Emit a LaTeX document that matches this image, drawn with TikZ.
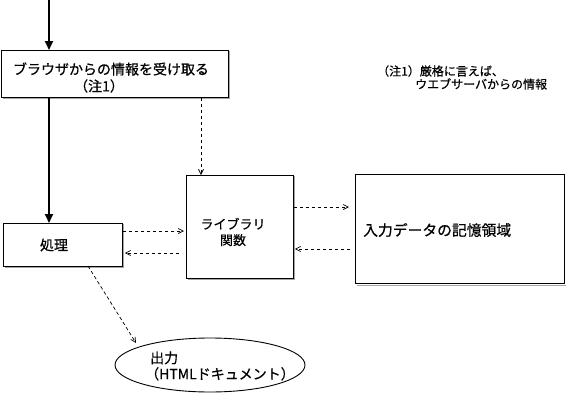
\documentclass[tikz,border=0pt]{standalone}
\usepackage{fontspec}
\setmainfont{Noto Sans CJK JP}[FakeBold=0.6]
\usetikzlibrary{arrows.meta,shapes.geometric}
\tikzset{
  box/.style={draw=black, line width=0.9pt, fill=white, inner sep=0pt, anchor=north west},
  shadowline/.style={draw=gray!70, line width=1pt},
  txt/.style={inner sep=0pt, font=\fontsize{14}{16}\selectfont},
  notetxt/.style={inner sep=0pt, font=\fontsize{12}{14}\selectfont, anchor=west},
  thickarrow/.style={line width=1.8pt, -{Triangle[length=9pt,width=8pt]}},
  dasharrow/.style={line width=0.7pt, dash pattern=on 3.5pt off 2.5pt, -{Straight Barb[length=5pt,width=5pt,line width=0.7pt]}},
}
\begin{document}
\begin{tikzpicture}[x=1pt,y=-1pt]
\useasboundingbox (0,0) rectangle (566,402);
% shadows
\draw[shadowline] (3,98) -- (229,98) -- (229,51);
\draw[shadowline] (5,267) -- (123,267) -- (123,224);
\draw[shadowline] (188,279) -- (294,279) -- (294,176);
\draw[shadowline] (357,285) -- (566,285) -- (566,175);
% boxes
\node[box, minimum width=227pt, minimum height=47pt] (b1) at (1,50) {};
\node[box, minimum width=119pt, minimum height=43pt] (proc) at (3,223) {};
\node[box, minimum width=107pt, minimum height=103pt] (lib) at (186,175) {};
\node[box, minimum width=209pt, minimum height=109pt] (data) at (355,174) {};
\node[draw=black, line width=0.9pt, ellipse, minimum width=190pt, minimum height=54pt, inner sep=0pt] (out) at (210,365) {};
% texts
\node[txt] (t1a) at (111,69) {ブラウザからの情報を受け取る};
\node[txt] (t1b) at (99,86) {（注1）};
\node[txt] (tproc) at (54,245) {処理};
\node[txt, align=center, font=\fontsize{13}{16}\selectfont] (tlib) at (233,232) {ライブラリ\\関数};
\node[txt, anchor=west, font=\fontsize{14.8}{16}\selectfont] (tdata) at (363,230) {入力データの記憶領域};
\node[txt, anchor=west, align=left] (tout) at (145,366) {\hspace{5pt}出力\\（HTMLドキュメント）};
\node[notetxt] (n1) at (377,71) {（注1）厳格に言えば、};
\node[notetxt] (n2) at (415,84) {ウエブサーバからの情報};
% connectors
\coordinate (top) at (49,0);
\coordinate (dtop) at (201,0);
\draw[thickarrow] (top) -- (top |- b1.north);
\draw[thickarrow] (top |- b1.south) -- (top |- proc.north);
\draw[dasharrow] (dtop |- b1.south) -- (dtop |- lib.north);
\draw[dasharrow, shorten >=2pt] (proc.east |- 0,231) -- (lib.west |- 0,231);
\draw[dasharrow, shorten <=7pt, shorten >=2pt] (lib.west |- 0,253) -- (proc.east |- 0,253);
\draw[dasharrow, shorten >=6pt] (lib.east |- 0,207) -- (data.west |- 0,207);
\draw[dasharrow, shorten <=5pt, shorten >=1pt] (data.west |- 0,249) -- (lib.east |- 0,249);
\coordinate (pb) at (88,266);
\coordinate (ot) at (136,343);
\draw[dasharrow] (pb) -- (ot);
\end{tikzpicture}
\end{document}
